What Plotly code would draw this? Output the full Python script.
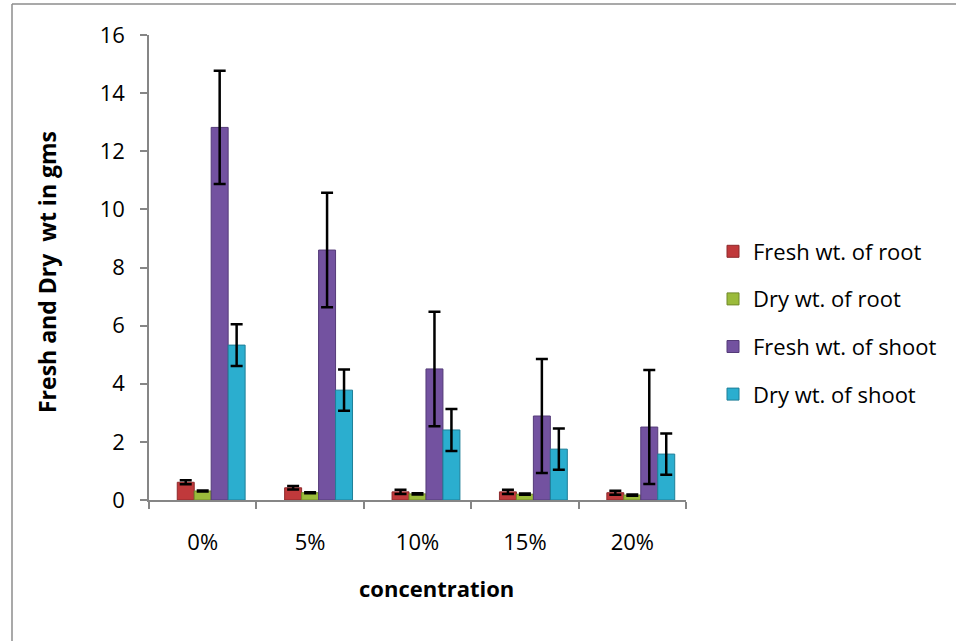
import plotly.graph_objects as go

categories = ["0%", "5%", "10%", "15%", "20%"]

series_names = ["Fresh wt. of root", "Dry wt. of root", "Fresh wt. of shoot", "Dry wt. of shoot"]

fresh_root = [0.61, 0.42, 0.28, 0.28, 0.25]
fresh_root_err = [0.07, 0.06, 0.07, 0.07, 0.07]

dry_root = [0.31, 0.25, 0.21, 0.20, 0.17]
dry_root_err = [0.02, 0.02, 0.02, 0.02, 0.02]

fresh_shoot = [12.82, 8.60, 4.51, 2.89, 2.51]
fresh_shoot_err = [1.95, 1.97, 1.97, 1.96, 1.96]

dry_shoot = [5.33, 3.78, 2.41, 1.75, 1.58]
dry_shoot_err = [0.72, 0.71, 0.72, 0.71, 0.71]

colors = ["#C0393B", "#9BBB3B", "#7352A0", "#2BAECF"]
line_colors = ["#8E2A2C", "#71892B", "#543B78", "#1F7F98"]

values = [fresh_root, dry_root, fresh_shoot, dry_shoot]
errors = [fresh_root_err, dry_root_err, fresh_shoot_err, dry_shoot_err]
offsets = [-0.237, -0.079, 0.079, 0.237]

FONT = "Open Sans"

fig = go.Figure()
for i in range(4):
    fig.add_trace(go.Bar(
        x=categories, y=values[i], name=series_names[i],
        marker=dict(color=colors[i], line=dict(color=line_colors[i], width=1)),
        width=0.158, offset=offsets[i],
        legendgroup=str(i),
        error_y=dict(type="data", array=errors[i], visible=True,
                     color="black", thickness=2.5, width=6),
    ))

# plot area pixel geometry
L, R, T, B = 149, 686, 35, 500
W, H = 956, 641
pw, ph = R - L, B - T

def px(x):
    return (x - L) / pw

def py(y):
    return (B - y) / ph

fig.update_layout(
    width=W, height=H,
    margin=dict(l=L, r=W - R, t=T, b=H - B, pad=0, autoexpand=False),
    paper_bgcolor="white", plot_bgcolor="white",
    font=dict(family=FONT, size=22, color="black"),
    barmode="group",
    showlegend=True,
    legend=dict(x=px(713), y=py(323), xanchor="left", yanchor="middle",
                traceorder="grouped", tracegroupgap=16,
                font=dict(family=FONT, size=22, color="black"),
                bgcolor="rgba(0,0,0,0)"),
    xaxis=dict(
        type="category", showgrid=False, showline=True, linecolor="#868686", linewidth=1.5,
        ticks="outside", tickson="boundaries", ticklen=7, tickcolor="#868686", tickwidth=1.5,
        tickfont=dict(family=FONT, size=22, color="black"),
        ticklabelstandoff=22,
        zeroline=False, fixedrange=True,
    ),
    yaxis=dict(
        range=[0, 16], tickvals=[0, 2, 4, 6, 8, 10, 12, 14, 16],
        showgrid=False, showline=True, linecolor="#868686", linewidth=1.5,
        ticks="outside", ticklen=7, tickcolor="#868686", tickwidth=1.5,
        tickfont=dict(family=FONT, size=22, color="black"),
        ticklabelstandoff=11,
        zeroline=False, fixedrange=True,
    ),
    annotations=[
        dict(text="<b>concentration</b>", x=px(436), y=py(588), xref="paper", yref="paper",
             showarrow=False, xanchor="center", yanchor="middle",
             font=dict(family=FONT, size=22, color="black")),
        dict(text="<b>Fresh and Dry  wt in gms</b>", x=px(47), y=py(272), xref="paper", yref="paper",
             showarrow=False, xanchor="center", yanchor="middle", textangle=-90,
             font=dict(family=FONT, size=23, color="black")),
    ],
    shapes=[
        dict(type="line", xref="paper", yref="paper", x0=px(12), x1=px(980), y0=py(4), y1=py(4),
             line=dict(color="#8C8C8C", width=1.5)),
        dict(type="line", xref="paper", yref="paper", x0=px(12), x1=px(12), y0=py(4), y1=py(660),
             line=dict(color="#8C8C8C", width=1.5)),
    ],
)

fig.write_html("out.html", config={"displayModeBar": False},
               post_script="document.body.style.margin='0px';")
